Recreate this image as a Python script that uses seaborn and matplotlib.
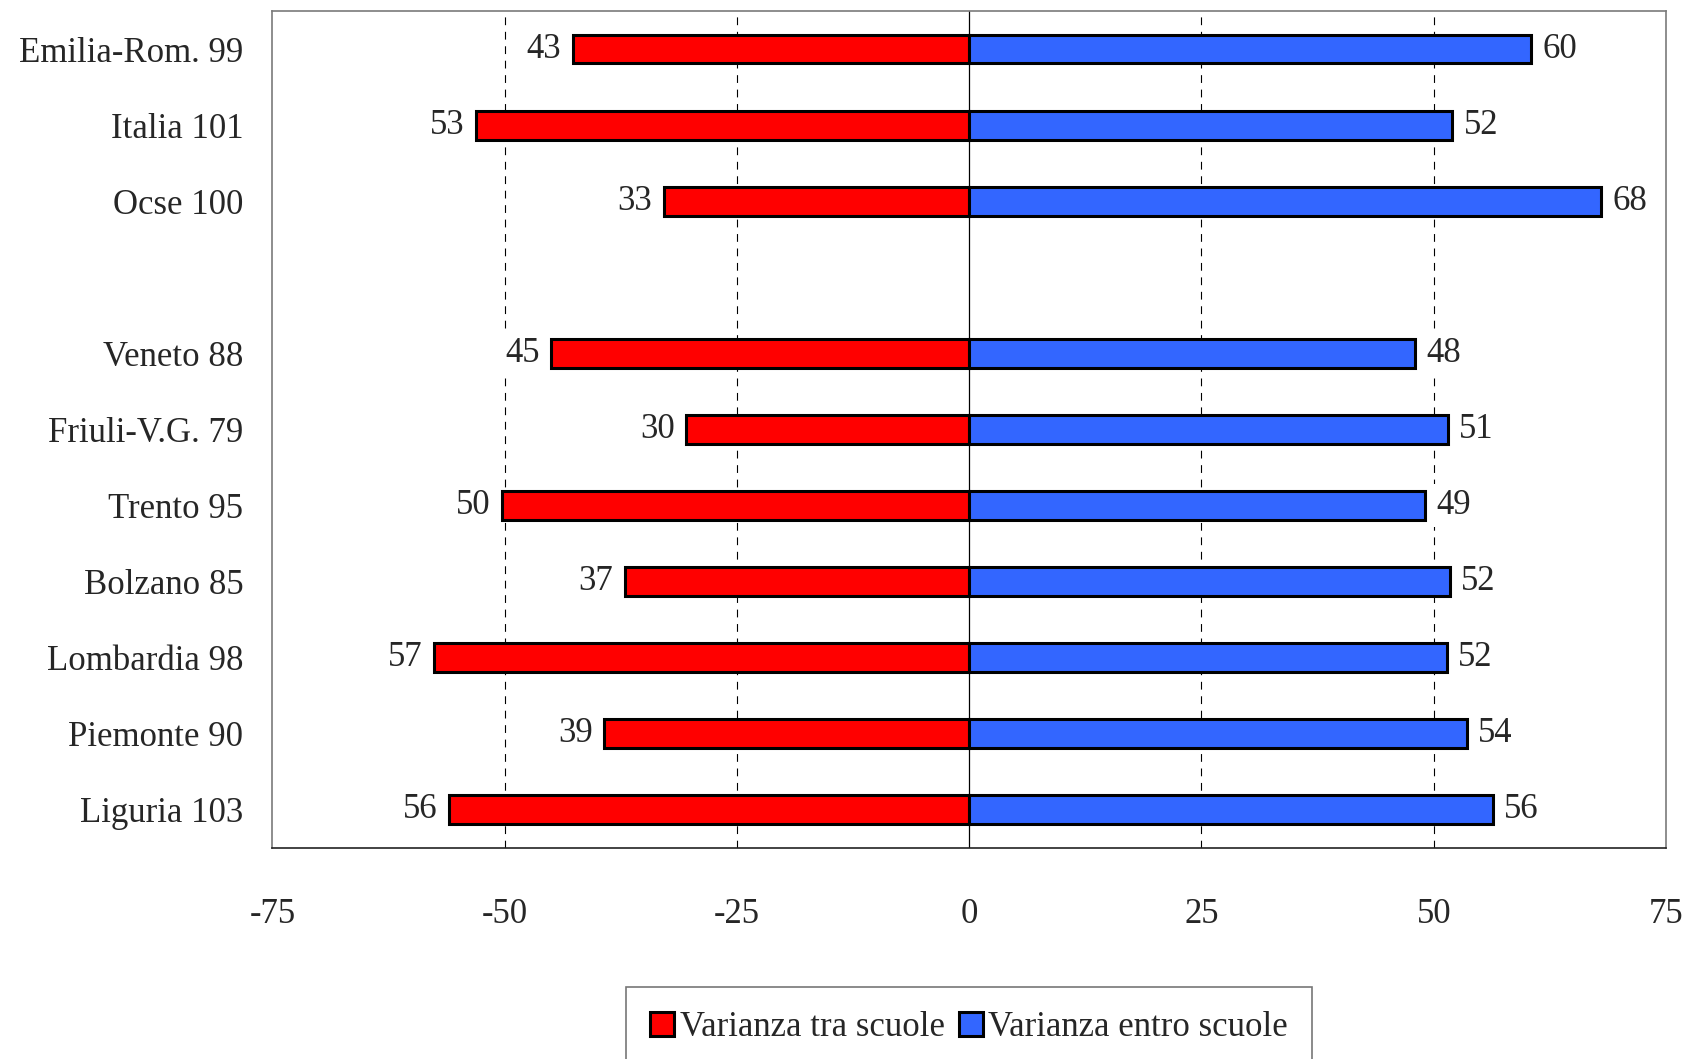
import matplotlib
matplotlib.use("Agg")
import matplotlib.pyplot as plt
import seaborn as sns
import pandas as pd
from matplotlib.patches import Patch

# ---- data ----
regions = ["Emilia-Rom. 99", "Italia 101", "Ocse 100", "", "Veneto 88", "Friuli-V.G. 79",
           "Trento 95", "Bolzano 85", "Lombardia 98", "Piemonte 90", "Liguria 103"]
tra_values = [42.7, 53.1, 32.9, None, 45.0, 30.5, 50.3, 37.1, 57.6, 39.3, 56.0]
entro_values = [60.5, 52.0, 68.0, None, 48.0, 51.5, 49.1, 51.7, 51.4, 53.6, 56.4]
tra_labels = ["43", "53", "33", "45", "30", "50", "37", "57", "39", "56"]
entro_labels = ["60", "52", "68", "48", "51", "49", "52", "52", "54", "56"]
series_names = ["Varianza tra scuole", "Varianza entro scuole"]
series_colors = ["#FF0000", "#3366FF"]
x_ticks = [-75, -50, -25, 0, 25, 50, 75]

rows = []
for r, t, e in zip(regions, tra_values, entro_values):
    if t is None:
        continue
    rows.append({"region": r, "value": -t, "series": series_names[0]})
    rows.append({"region": r, "value": e, "series": series_names[1]})
df = pd.DataFrame(rows)

sns.set_theme(style="white")
plt.rcParams["font.family"] = ["Liberation Serif", "DejaVu Serif"]
FS = 25

fig = plt.figure(figsize=(16.89, 10.59), dpi=100)
ax = fig.add_axes([0.1613, 0.1997, 0.8251, 0.7899])

ax.axvline(0, color="black", lw=0.9, zorder=1)
for xv in [-50, -25, 25, 50]:
    ax.axvline(xv, color="black", lw=0.8, linestyle=(0, (7, 6)), zorder=0.5)

sns.barplot(data=df, x="value", y="region", hue="series", order=regions,
            hue_order=series_names, palette=series_colors, dodge=False,
            width=0.38, edgecolor="black", linewidth=2.2, legend=False,
            saturation=1, ax=ax, zorder=2)

ax.set_xlim(-75, 75)
ax.set_ylim(10.5, -0.5)
ax.set_xticks(x_ticks)
ax.set_xticklabels([str(v) for v in x_ticks], fontsize=FS)
ax.tick_params(axis="x", length=0, pad=36)
ax.tick_params(axis="y", length=0, pad=21, labelsize=FS)
ax.set_xlabel("")
ax.set_ylabel("")
for lab in ax.get_yticklabels():
    lab.set_fontsize(FS)

for name, sp in ax.spines.items():
    sp.set_visible(True)
    sp.set_linewidth(1.2)
    sp.set_color("#222222" if name == "bottom" else "#7a7a7a")

containers = ax.containers
bbox = dict(boxstyle="square,pad=0.15", fc="white", ec="none")
ax.bar_label(containers[0], labels=tra_labels, padding=8, fontsize=FS, bbox=bbox, zorder=3)
ax.bar_label(containers[1], labels=entro_labels, padding=8, fontsize=FS, bbox=bbox, zorder=3)

handles = [Patch(facecolor=c, edgecolor="black", linewidth=2.2) for c in series_colors]
leg = fig.legend(handles, series_names, loc="upper center",
                 bbox_to_anchor=(0.5737, 0.068), ncol=2, fontsize=FS,
                 frameon=True, fancybox=False, shadow=False,
                 handlelength=0.7, handleheight=0.7, handletextpad=0.15,
                 columnspacing=0.4, borderpad=0.7, borderaxespad=0)
leg.get_frame().set_edgecolor("#555555")
leg.get_frame().set_linewidth(1.2)

fig.savefig("out.png", dpi=100)
